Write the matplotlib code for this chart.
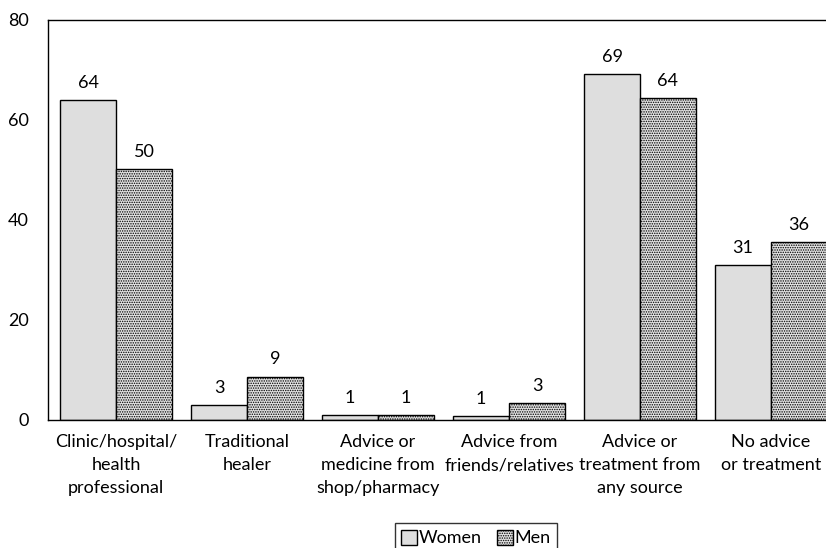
import numpy as np
import matplotlib.pyplot as plt

plt.rcParams['font.family'] = ['Lato', 'DejaVu Sans']
plt.rcParams['hatch.linewidth'] = 0.7
plt.rcParams['hatch.color'] = '#808080'

categories = ['Clinic/hospital/\nhealth\nprofessional', 'Traditional\nhealer',
              'Advice or\nmedicine from\nshop/pharmacy', 'Advice from\nfriends/relatives',
              'Advice or\ntreatment from\nany source', 'No advice\nor treatment']
women = [64.0, 3.0, 1.0, 0.9, 69.2, 31.0]
men = [50.2, 8.7, 1.0, 3.4, 64.4, 35.7]
women_labels = ['64', '3', '1', '1', '69', '31']
men_labels = ['50', '9', '1', '3', '64', '36']

fig = plt.figure(figsize=(8.26, 5.48), dpi=100)
ax = fig.add_axes([48 / 826, 128 / 548, 1 - 48 / 826, 400 / 548])

ind = np.arange(len(categories))
width = 0.427
b1 = ax.bar(ind - width / 2, women, width, color='#dedede', edgecolor='black', linewidth=1, label='Women')
b2 = ax.bar(ind + width / 2, men, width, color='#e2e2e2', edgecolor='black', linewidth=1,
            hatch='.......', label='Men')

for i, v in enumerate(women):
    ax.text(i - width / 2, v + 1.8, women_labels[i], ha='center', va='bottom', fontsize=13)
for i, v in enumerate(men):
    ax.text(i + width / 2, v + 1.8, men_labels[i], ha='center', va='bottom', fontsize=13)

ax.set_xlim(-0.52, 5.42)
ax.set_ylim(0, 80)
ax.set_yticks([0, 20, 40, 60, 80])
ax.set_xticks(ind)
ax.set_xticklabels(categories, fontsize=13, linespacing=1.55)
ax.tick_params(axis='both', length=0, labelsize=13)
ax.tick_params(axis='y', pad=14)
ax.tick_params(axis='x', pad=10)
ax.spines['right'].set_visible(False)
for s in ['left', 'top', 'bottom']:
    ax.spines[s].set_linewidth(1)

leg = fig.legend(handles=[b1, b2], loc='lower center', bbox_to_anchor=(476 / 826, -0.025), ncol=2,
                 fontsize=13, frameon=True, fancybox=False, edgecolor='black',
                 handlelength=0.9, handleheight=0.9, handletextpad=0.1, columnspacing=0.8,
                 borderpad=0.35)
leg.get_frame().set_linewidth(1)

fig.savefig('out.png', dpi=100)
